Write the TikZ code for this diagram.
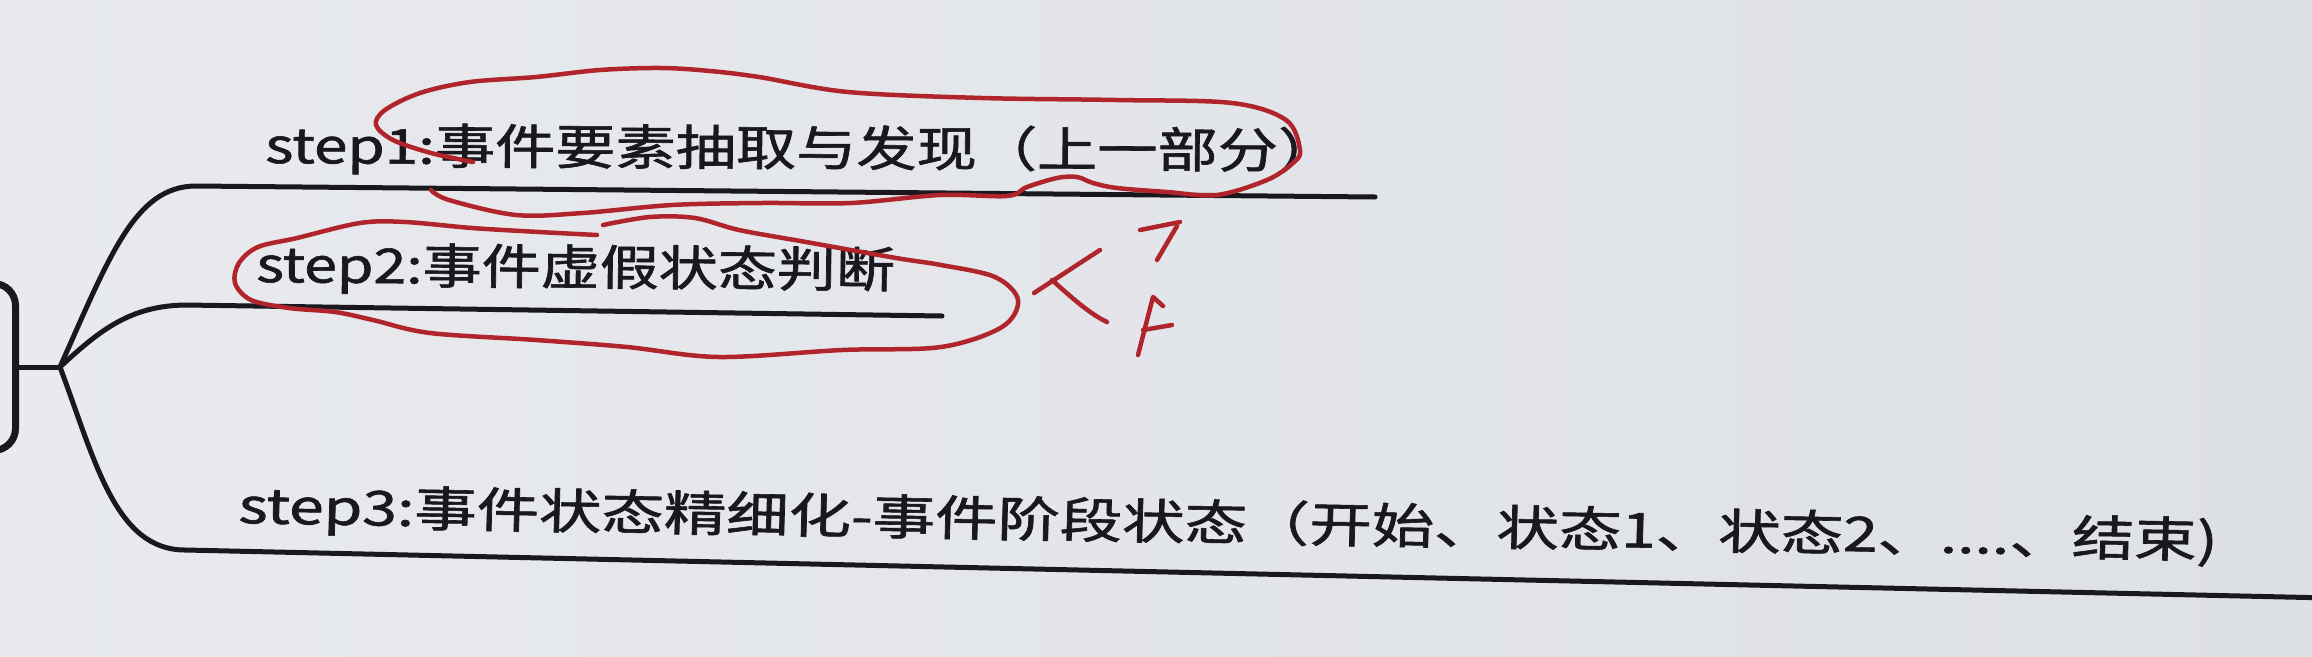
\documentclass[tikz,border=0pt]{standalone}
\usepackage{fontspec}
\newfontfamily\cjk{Noto Sans CJK SC}[FakeBold=1.2]
\definecolor{bgL}{HTML}{E8EAEE}
\definecolor{bgR}{HTML}{DDE0E5}
\definecolor{ink}{HTML}{1A171E}
\definecolor{pen}{HTML}{B0252B}
\begin{document}
\begin{tikzpicture}[x=1pt,y=-1pt,
  branch/.style={draw=ink, line width=5pt, line cap=round},
  steplabel/.style={font=\cjk\fontsize{48}{48}\selectfont, text=ink, inner sep=0pt, anchor=base west, xscale=1.23},
  penline/.style={draw=pen, line width=4.5pt, line cap=round, line join=round}]
\useasboundingbox (0,0) rectangle (2312,656);
\shade[left color=bgL, right color=bgR] (0,0) rectangle (2312,656);

% root box (mostly off the left edge)
\node[draw=ink, line width=7pt, rounded corners=22pt, minimum width=75pt, minimum height=167pt, inner sep=0pt] (root) at (-22,367) {};
\coordinate (hub) at (60,367);
\coordinate (s1b) at (1375,197);
\coordinate (s2b) at (942,316);
\coordinate (s3b) at (2330,598);

\draw[branch] (root.east) -- (hub);
\draw[branch] (hub) .. controls (110,255) and (135,187) .. (195,186) -- (s1b);
\draw[branch] (hub) .. controls (100,330) and (130,306) .. (185,305) -- (s2b);
\draw[branch] (hub) .. controls (95,460) and (115,550) .. (185,550) -- (s3b);

% labels
\node[steplabel, xscale=1.02, rotate=-0.35] (t1) at (265,163) {step1:事件要素抽取与发现（上一部分）};
\node[steplabel, rotate=-0.6] (t2) at (256,282) {step2:事件虚假状态判断};
\node[steplabel, xscale=1.057, rotate=-1.3] (t3) at (238,523) {step3:事件状态精细化-事件阶段状态（开始、状态1、状态2、....、结束)};

% red hand-drawn annotations
\draw[penline] plot[smooth, tension=0.55] coordinates {
 (473,162) (431,153) (393,140) (376,125) (385,110) (420,93) (470,82) (536,77)
 (600,70) (661,68) (710,71) (759,77) (848,92) (982,98) (1116,100) (1232,103)
 (1286,120) (1300,150) (1293,163) (1267,180) (1217,195) (1167,192) (1117,188)
 (1093,183) (1077,177) (1057,178) (1027,187) (1007,196) (940,195) (851,203)
 (762,203) (672,205) (583,213) (516,215) (449,200) (431,190)};
\draw[penline] plot[smooth, tension=0.55] coordinates {
 (603,225) (650,217) (695,218) (739,230) (806,242) (896,258) (941,265) (995,277) (1018,300)
 (1002,327) (941,347) (842,350) (719,357) (627,347) (536,340) (430,333) (373,320)
 (335,312) (289,308) (251,300) (235,283) (239,263) (258,247) (297,238) (360,223)
 (405,222) (472,228) (539,232) (597,235)};
% "<"
\draw[penline] (1100,250) -- (1034,293);
\draw[penline] (1052,280) .. controls (1072,298) and (1090,314) .. (1107,322);
% "T"
\draw[penline] (1140,230) -- (1180,222);
\draw[penline] (1177,226) -- (1157,260);
% "F"
\draw[penline] (1163,306) -- (1153,297) -- (1138,355);
\draw[penline] (1143,330) -- (1172,325);
\end{tikzpicture}
\end{document}
